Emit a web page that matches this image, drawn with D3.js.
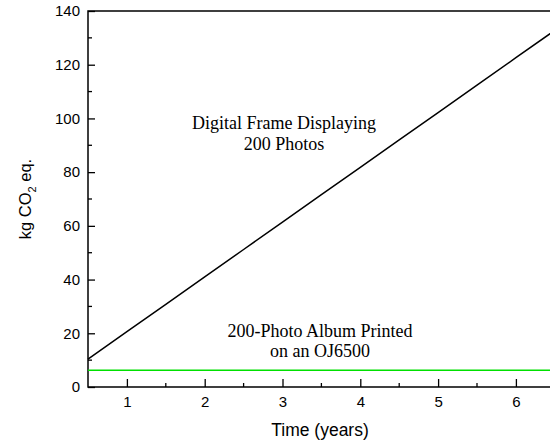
<!DOCTYPE html>
<html><head><meta charset="utf-8">
<script src="https://cdn.jsdelivr.net/npm/d3@7"></script>
<style>body{margin:0;background:#fff}svg{display:block}</style>
</head><body>
<svg id="c" width="550" height="442"></svg>
<script>
const years = [0.5, 1, 1.5, 2, 2.5, 3, 3.5, 4, 4.5, 5, 5.5, 6, 6.5];
const frameCO2 = [10.4, 20.6, 30.8, 41.0, 51.2, 61.4, 71.6, 81.8, 92.0, 102.2, 112.4, 122.6, 132.8];
const albumCO2 = [6.2, 6.2, 6.2, 6.2, 6.2, 6.2, 6.2, 6.2, 6.2, 6.2, 6.2, 6.2, 6.2];
const xTicks = [1, 2, 3, 4, 5, 6];
const yTicks = [0, 20, 40, 60, 80, 100, 120, 140];

const svg = d3.select("#c");
const x = d3.scaleLinear().domain([0.5, 6.5]).range([88, 554.8]);
const y = d3.scaleLinear().domain([0, 140]).range([387, 11]);
const sans = "Liberation Sans, Arial, sans-serif";

// minor ticks
const g = svg.append("g");
d3.range(10, 140, 20).forEach(v => {
  g.append("line").attr("x1", x(0.5)).attr("x2", x(0.5) + 4).attr("y1", y(v)).attr("y2", y(v))
   .attr("stroke", "#000").attr("stroke-width", 1.3);
});
d3.range(1.5, 6.6, 1).forEach(v => {
  g.append("line").attr("x1", x(v)).attr("x2", x(v)).attr("y1", y(0)).attr("y2", y(0) - 4)
   .attr("stroke", "#000").attr("stroke-width", 1.3);
});

// axes
const yAxis = d3.axisLeft(y).tickValues(yTicks).tickSize(-7).tickPadding(8).tickFormat(d3.format("d"));
const xAxis = d3.axisBottom(x).tickValues(xTicks).tickSize(-8).tickPadding(9).tickFormat(d3.format("d"));
const ya = svg.append("g").attr("transform", `translate(${x(0.5)},0)`).call(yAxis);
const xa = svg.append("g").attr("transform", `translate(0,${y(0)})`).call(xAxis);
[ya, xa].forEach(a => {
  a.select(".domain").remove();
  a.selectAll(".tick line").attr("stroke", "#000").attr("stroke-width", 1.3);
  a.selectAll("text").attr("fill", "#000").style("font-family", sans).style("font-size", "15px");
});
// frame
svg.append("path")
  .attr("d", `M${x(6.5)},${y(140)}H${x(0.5)}V${y(0)}H${x(6.5)}`)
  .attr("fill", "none").attr("stroke", "#000").attr("stroke-width", 1.5);

// lines
const line = d3.line().x((d, i) => x(years[i])).y(d => y(d));
svg.append("path").datum(albumCO2).attr("d", line).attr("fill", "none")
  .attr("stroke", "#00e000").attr("stroke-width", 1.5);
svg.append("path").datum(frameCO2).attr("d", line).attr("fill", "none")
  .attr("stroke", "#000").attr("stroke-width", 1.5);

// annotations
const serif = "Liberation Serif, Times New Roman, serif";
const ann = [
  {t: "Digital Frame Displaying", xv: 284, yv: 129},
  {t: "200 Photos", xv: 284, yv: 150},
  {t: "200-Photo Album Printed", xv: 320, yv: 337},
  {t: "on an OJ6500", xv: 320, yv: 357}
];
ann.forEach(a => svg.append("text").attr("x", a.xv).attr("y", a.yv).attr("text-anchor", "middle")
  .style("font-family", serif).style("font-size", "18px").attr("fill", "#000").text(a.t));

// axis titles
svg.append("text").attr("x", 320).attr("y", 436).attr("text-anchor", "middle")
  .style("font-family", sans).style("font-size", "17.5px").text("Time (years)");
const yl = svg.append("text").attr("transform", "translate(31,199) rotate(-90)").attr("text-anchor", "middle")
  .style("font-family", sans).style("font-size", "16.5px");
yl.append("tspan").text("kg CO");
yl.append("tspan").attr("dy", 5).style("font-size", "11px").text("2");
yl.append("tspan").attr("dy", -5).text(" eq.");
</script>
</body></html>
